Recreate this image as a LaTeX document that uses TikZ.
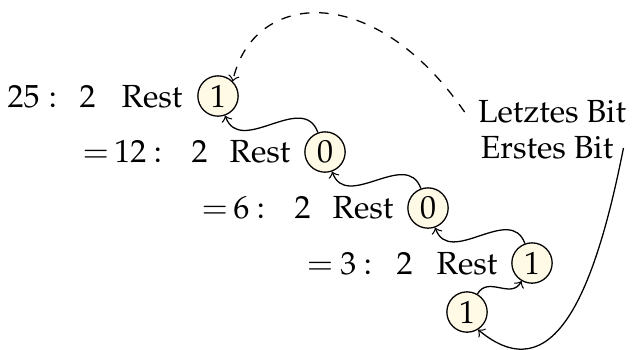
\documentclass[tikz,border=0pt]{standalone}
\usepackage[T1]{fontenc}
\usepackage{mathpazo}
\usetikzlibrary{calc}
\definecolor{bitfill}{RGB}{255,250,230}
\tikzset{
  bit/.style={circle,draw,fill=bitfill,line width=0.4pt,minimum size=12.6pt,inner sep=0pt},
  rowleft/.style={anchor=base east,inner sep=0pt},
  rowmid/.style={anchor=base west,inner sep=0pt},
  wave/.style={->,line width=0.4pt,looseness=1.2},
  lbl/.style={inner sep=0pt}
}
\begin{document}
\begin{tikzpicture}[x=0.3125pt,y=-0.3125pt]
\useasboundingbox (0,0) rectangle (633,349);
\node[bit] (n1) at (218,96) {1};
\node[bit] (n2) at (325,152) {0};
\node[bit] (n3) at (428,208) {0};
\node[bit] (n4) at (532,263) {1};
\node[bit] (n5) at (467,312) {1};

% row 1
\node[rowleft] (a1) at ($(n1.base)+(-160,0)$) {$25:$};
\node[rowmid]  (b1) at ($(n1.base)+(-139,0)$) {$2$};
\node[rowleft] (c1) at ($(n1.base)+(-35,0)$) {Rest};
% row 2
\node[rowleft] (a2) at ($(n2.base)+(-162,0)$) {${=}\mskip3mu 12\mskip4mu{:}$};
\node[rowmid]  (b2) at ($(n2.base)+(-134,0)$) {$2$};
\node[rowleft] (c2) at ($(n2.base)+(-34,0)$) {Rest};
% row 3
\node[rowleft] (a3) at ($(n3.base)+(-162,0)$) {${=}\mskip3mu 6\mskip4mu{:}$};
\node[rowmid]  (b3) at ($(n3.base)+(-134,0)$) {$2$};
\node[rowleft] (c3) at ($(n3.base)+(-34,0)$) {Rest};
% row 4
\node[rowleft] (a4) at ($(n4.base)+(-159,0)$) {${=}\mskip4mu 3\mskip4mu{:}$};
\node[rowmid]  (b4) at ($(n4.base)+(-136,0)$) {$2$};
\node[rowleft] (c4) at ($(n4.base)+(-34,0)$) {Rest};

\node[lbl] (last) at (552,112) {Letztes Bit};
\node[lbl] (first) at (547,148) {Erstes Bit};

\draw[wave] (n2) to[out=110,in=-70] (n1);
\draw[wave] (n3) to[out=110,in=-70] (n2);
\draw[wave] (n4) to[out=110,in=-70] (n3);
\draw[wave] (n5) to[out=60,in=-120] (n4);

\draw[->,dashed,line width=0.4pt] ([xshift=-4pt]last.west) .. controls +(-92,-133) and +(20,-90) .. (n1.north east);
\draw[->,line width=0.4pt] ([xshift=3pt]first.east) .. controls +(-29,147) and +(75,62) .. (n5.-58);
\end{tikzpicture}
\end{document}
